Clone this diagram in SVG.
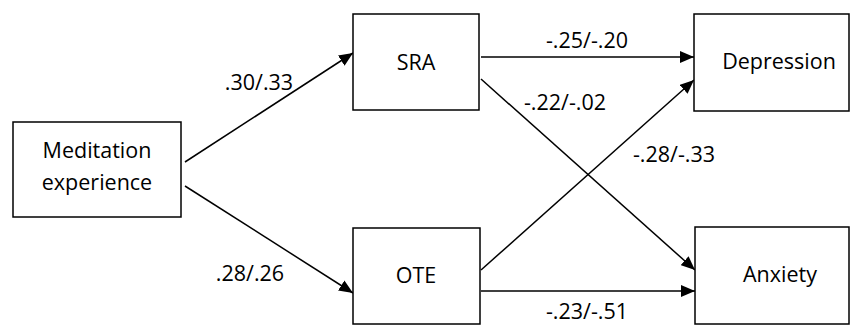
<svg xmlns="http://www.w3.org/2000/svg" width="851" height="326" viewBox="0 0 851 326">
<defs>
<marker id="arr" markerUnits="userSpaceOnUse" markerWidth="14" markerHeight="12" viewBox="0 0 14 12" refX="14" refY="6" orient="auto">
<path d="M0,0 L14,6 L0,12 Z" fill="#000"/>
</marker>
<style>
.box{fill:#fff;stroke:#000;stroke-width:1.5}
.t{font-family:"Open Sans","Liberation Sans",Arial,sans-serif;font-size:21.5px;fill:#000;text-anchor:middle}
.c{stroke:#000;stroke-width:1.5;fill:none;marker-end:url(#arr)}
</style>
</defs>
<rect width="851" height="326" fill="#fff"/>
<g id="connectors">
<line class="c" x1="185" y1="162" x2="353" y2="53"/>
<line class="c" x1="185" y1="186" x2="353" y2="293"/>
<line class="c" x1="481" y1="57" x2="694" y2="57"/>
<line class="c" x1="481" y1="79" x2="695" y2="270"/>
<line class="c" x1="481" y1="270" x2="694" y2="80"/>
<line class="c" x1="481" y1="291" x2="695" y2="291"/>
<text class="t" x="259" y="90">.30/.33</text>
<text class="t" x="250" y="281">.28/.26</text>
<text class="t" x="587" y="48">-.25/-.20</text>
<text class="t" x="565" y="110">-.22/-.02</text>
<text class="t" x="674" y="162">-.28/-.33</text>
<text class="t" x="587" y="319">-.23/-.51</text>
</g>
<g id="meditation">
<rect class="box" x="13" y="122" width="168" height="95"/>
<text class="t" x="97" y="158">Meditation</text>
<text class="t" x="97" y="190">experience</text>
</g>
<g id="sra">
<rect class="box" x="353" y="14" width="126" height="96"/>
<text class="t" x="416" y="70">SRA</text>
</g>
<g id="ote">
<rect class="box" x="353" y="228" width="127" height="96"/>
<text class="t" x="416" y="283">OTE</text>
</g>
<g id="depression">
<rect class="box" x="694" y="14" width="155" height="97"/>
<text class="t" x="779" y="69">Depression</text>
</g>
<g id="anxiety">
<rect class="box" x="695" y="227" width="154" height="97"/>
<text class="t" x="780" y="282">Anxiety</text>
</g>
</svg>
